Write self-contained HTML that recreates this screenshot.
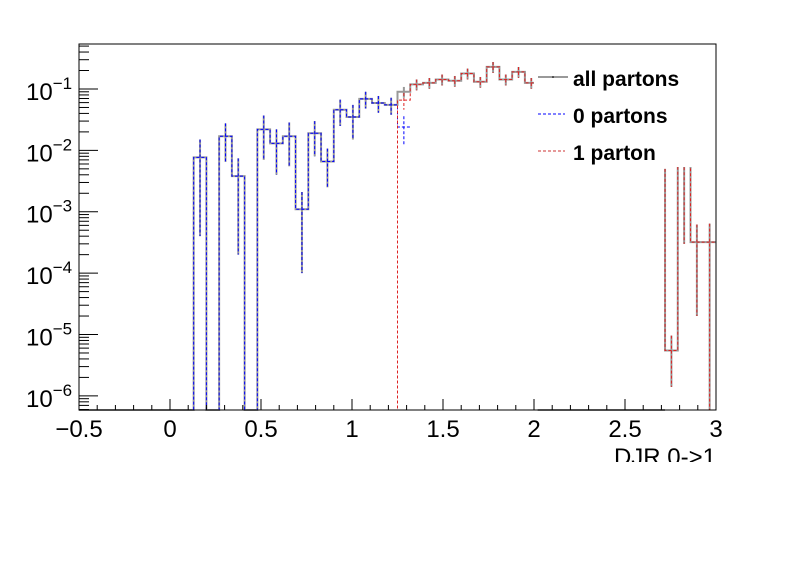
<!DOCTYPE html>
<html><head><meta charset="utf-8"><style>
body{margin:0;background:#fff}
svg{display:block;font-family:"Liberation Sans",sans-serif}
</style></head><body>
<svg id="c" width="796" height="572" viewBox="0 0 796 572">
<defs><clipPath id="tclip"><rect x="0" y="0" width="796" height="462"/></clipPath></defs>
<rect width="796" height="572" fill="#fff"/>
<g id="plot"></g>
<g id="axes"></g>
<g id="legend">
 <rect x="534" y="60" width="181" height="107" fill="#fff"/>
 <line x1="538" y1="77" x2="568" y2="77" stroke="#999" stroke-width="2"/>
 <circle cx="553" cy="77" r="0.8" fill="#000"/>
 <text x="573" y="86" font-size="21" font-weight="bold">all partons</text>
 <line x1="538" y1="114" x2="565" y2="114" stroke="#00f" stroke-width="1" stroke-dasharray="3,2"/>
 <text x="573" y="123" font-size="21" font-weight="bold">0 partons</text>
 <line x1="538" y1="151" x2="565" y2="151" stroke="#c33" stroke-width="1" stroke-dasharray="3,2"/>
 <text x="573" y="160" font-size="21" font-weight="bold">1 parton</text>
</g>
<text x="716" y="465" font-size="24" text-anchor="end" clip-path="url(#tclip)">DJR 0-&gt;1</text>
</svg>
<script>
const binLow = -0.5, binWidth = 0.07, nBins = 50;
const allVals = [0,0,0,0,0,0,0,0,0,7.7e-3,0,0.017,3.8e-3,0,0.022,0.013,0.017,1.1e-3,0.019,6.6e-3,0.046,0.035,0.069,0.059,0.055,0.090,0.119,0.126,0.143,0.136,0.179,0.131,0.229,0.143,0.19,0.126,0,0,0,0,0,0,0,0,0,0,5.5e-6,0.01,3.2e-4,3.2e-4];
const allErrs = [0,0,0,0,0,0,0,0,0,7.3e-3,0,0.0105,3.6e-3,0,0.015,0.009,0.0115,1.0e-3,0.011,4.1e-3,0.021,0.02,0.021,0.018,0.017,0.018,0.024,0.025,0.029,0.027,0.036,0.026,0.046,0.029,0.038,0.025,0,0,0,0,0,0,0,0,0,0,4.1e-6,0.0097,3.0e-4,3.2e-4];
const zeroVals = [0,0,0,0,0,0,0,0,0,7.7e-3,0,0.017,3.8e-3,0,0.022,0.013,0.017,1.1e-3,0.019,6.6e-3,0.046,0.035,0.069,0.059,0.055,0.024,0,0,0,0,0,0,0,0,0,0,0,0,0,0,0,0,0,0,0,0,0,0,0,0];
const zeroErrs = [0,0,0,0,0,0,0,0,0,7.3e-3,0,0.0105,3.6e-3,0,0.015,0.009,0.0115,1.0e-3,0.011,4.1e-3,0.021,0.02,0.021,0.018,0.017,0.012,0,0,0,0,0,0,0,0,0,0,0,0,0,0,0,0,0,0,0,0,0,0,0,0];
const oneVals = [0,0,0,0,0,0,0,0,0,0,0,0,0,0,0,0,0,0,0,0,0,0,0,0,0,0.066,0.119,0.126,0.143,0.136,0.179,0.131,0.229,0.143,0.19,0.126,0,0,0,0,0,0,0,0,0,0,5.5e-6,0.01,3.2e-4,3.2e-4];
const oneErrs = [0,0,0,0,0,0,0,0,0,0,0,0,0,0,0,0,0,0,0,0,0,0,0,0,0,0.02,0.024,0.025,0.029,0.027,0.036,0.026,0.046,0.029,0.038,0.025,0,0,0,0,0,0,0,0,0,0,4.1e-6,0.0097,3.0e-4,3.2e-4];
const xTicks = [-0.5,0,0.5,1,1.5,2,2.5,3];
const xTickLabels = ["\u22120.5","0","0.5","1","1.5","2","2.5","3"];
const yDecades = [-1,-2,-3,-4,-5,-6];

const L=79,R=716,T=44,B=410, xMin=-0.5,xMax=3, yTopLog=-0.267, yBotLog=-6.23;
const X=v=>L+(v-xMin)/(xMax-xMin)*(R-L);
const Y=v=>{if(v<=0)return B;let y=T+(yTopLog-Math.log10(v))/(yTopLog-yBotLog)*(B-T);return Math.min(B,Math.max(T,y));};
const NS="http://www.w3.org/2000/svg";
function mk(tag,attrs,parent){const e=document.createElementNS(NS,tag);for(const k in attrs)e.setAttribute(k,attrs[k]);parent.appendChild(e);return e;}
const plot=document.getElementById('plot'), axes=document.getElementById('axes');

function drawHist(vals,errs,color,width,dash,name){
  let d="M"+X(binLow)+","+B;
  for(let i=0;i<nBins;i++){
    const y=Y(vals[i]);
    const prev=i>0?vals[i-1]:0;
    const x0=X(binLow+i*binWidth);
    // long run of empty bins after a filled region: ROOT leaves no drop line
    if(vals[i]<=0 && prev>0 && i+1<nBins && vals[i+1]<=0){d+=" M"+x0+","+y;}
    else if(vals[i]>0 && prev<=0 && i>1 && vals[i-2]<=0 && vals[i]<1e-5){d+=" M"+x0+","+Y(0.005);}
    d+=" L"+x0+","+y+" L"+X(binLow+(i+1)*binWidth)+","+y;
  }
  const p=mk('path',{d:d,fill:'none',stroke:color,'stroke-width':width,'stroke-dasharray':dash},plot);
  
  
  for(let i=0;i<nBins;i++){
    if(vals[i]<=0)continue;
    const cx=X(binLow+(i+0.5)*binWidth);
    const e=mk('line',{x1:cx,x2:cx,y1:Y(vals[i]+errs[i]),y2:Y(vals[i]-errs[i]),stroke:color,'stroke-width':width,'stroke-dasharray':dash},plot);
    
    
  }
}
drawHist(allVals,allErrs,'#999',2,'none','all-partons');
drawHist(zeroVals,zeroErrs,'#00f',1,'3,2','zero-partons');
drawHist(oneVals,oneErrs,'#d22',1,'3,2','one-parton');

const fr=mk('rect',{x:L,y:T,width:R-L,height:B-T,fill:'none',stroke:'#000','stroke-width':1},axes);


for(let v=-0.5;v<=3.0001;v+=0.1){
  const x=X(v);mk('line',{x1:x,x2:x,y1:B,y2:B-5,stroke:'#000'},axes);
}
xTicks.forEach((v,i)=>{
  const x=X(v);mk('line',{x1:x,x2:x,y1:B,y2:B-11,stroke:'#000'},axes);
  const t=mk('text',{x:x,y:437,'font-size':24,'text-anchor':'middle'},axes);
  t.textContent=xTickLabels[i];
  
  
});
for(let d=-7;d<=0;d++){
  for(let m=1;m<10;m++){
    const v=m*Math.pow(10,d);const lg=Math.log10(v);
    if(lg<yBotLog||lg>yTopLog)continue;
    const y=Y(v);mk('line',{x1:L,x2:L+(m===1?19:10),y1:y,y2:y,stroke:'#000'},axes);
  }
}
yDecades.forEach(d=>{
  const y=Y(Math.pow(10,d));
  const t=mk('text',{x:26,y:y+11,'font-size':24},axes);
  
  
  t.textContent="10";
  const s=mk('tspan',{dy:-11,'font-size':17},t);s.textContent="\u2212"+(-d);
});
</script>
</body></html>
